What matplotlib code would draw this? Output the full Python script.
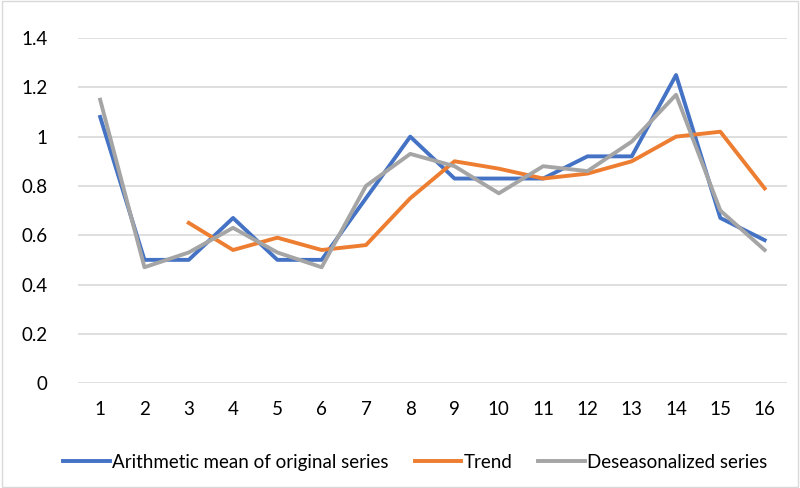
import numpy as np
import matplotlib
matplotlib.use("Agg")
import matplotlib.pyplot as plt
from matplotlib.patches import Rectangle

periods = list(range(1, 17))
mean_orig = [1.08, 0.50, 0.50, 0.67, 0.50, 0.50, 0.75, 1.00,
             0.83, 0.83, 0.83, 0.92, 0.92, 1.25, 0.67, 0.58]
trend = [np.nan, np.nan, 0.65, 0.54, 0.59, 0.54, 0.56, 0.75,
         0.90, 0.87, 0.83, 0.85, 0.90, 1.00, 1.02, 0.79]
deseason = [1.15, 0.47, 0.53, 0.63, 0.53, 0.47, 0.80, 0.93,
            0.88, 0.77, 0.88, 0.86, 0.98, 1.17, 0.70, 0.54]
yticks = [0, 0.2, 0.4, 0.6, 0.8, 1, 1.2, 1.4]
ytick_labels = ["0", "0.2", "0.4", "0.6", "0.8", "1", "1.2", "1.4"]

plt.rcParams['font.family'] = ['Lato', 'DejaVu Sans']

fig = plt.figure(figsize=(8, 4.88), dpi=100)
ax = fig.add_axes([0.0975, 0.215, 0.886, 0.707])

lw = 2.8
ax.plot(periods, mean_orig, color='#4472C4', lw=lw, label='Arithmetic mean of original series', zorder=3)
ax.plot(periods, trend, color='#ED7D31', lw=lw, label='Trend', zorder=4)
ax.plot(periods, deseason, color='#A5A5A5', lw=lw, label='Deseasonalized series', zorder=5)

ax.set_xlim(0.5, 16.5)
ax.set_ylim(0, 1.4)
ax.set_yticks(yticks)
ax.set_yticklabels(ytick_labels)
ax.set_xticks(periods)
ax.set_xticklabels([str(p) for p in periods])
ax.yaxis.grid(True, color='#D9D9D9', lw=1.2)
ax.set_axisbelow(True)
for s in ax.spines.values():
    s.set_visible(False)
ax.tick_params(axis='both', length=0, labelsize=13.5, colors='#000000')
ax.tick_params(axis='x', pad=13)
ax.tick_params(axis='y', pad=22)

fig.legend(loc='center', bbox_to_anchor=(0.519, 0.053), ncol=3, frameon=False,
           fontsize=13.5, handlelength=2.5, handletextpad=0.1, columnspacing=1.4)

fig.patches.append(Rectangle((0.002, 0.002), 0.996, 0.996, transform=fig.transFigure,
                             fill=False, edgecolor='#D9D9D9', lw=1))

fig.savefig('out.png', dpi=100)
